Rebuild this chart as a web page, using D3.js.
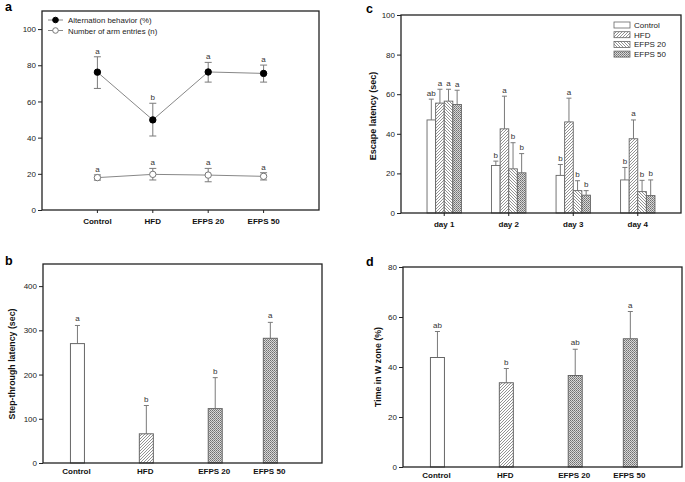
<!DOCTYPE html>
<html><head><meta charset="utf-8">
<script src="https://cdn.jsdelivr.net/npm/d3@7"></script>
<style>
body{margin:0;background:#fff;}
text{font-family:"Liberation Sans",Arial,sans-serif;}
</style></head>
<body><svg id="c" width="685" height="482"></svg>
<script>
// ---------- DATA ----------
const groups = ["Control","HFD","EFPS 20","EFPS 50"];
// panel a
const altMean = [76.2, 49.8, 76.3, 75.5];
const altErrLo = [67.2, 40.9, 70.7, 70.7];
const altErrHi = [84.7, 59.0, 81.6, 80.1];
const altLetters = ["a","b","a","a"];
const entMean = [17.9, 19.7, 19.3, 18.6];
const entErrLo = [16.5, 16.6, 15.6, 16.6];
const entErrHi = [19.4, 23.0, 23.0, 20.6];
const entLetters = ["a","a","a","a"];
const aTicks = [0,20,40,60,80,100];
// panel b
const stepMean = [270, 66, 123, 282];
const stepErr = [311, 130, 193, 318];
const stepLetters = ["a","b","b","a"];
const bTicks = [0,100,200,300,400];
// panel c
const days = ["day 1","day 2","day 3","day 4"];
const escControl = [47.0, 24.0, 19.0, 16.7];
const escHFD = [55.5, 42.5, 46.0, 37.5];
const escE20 = [56.5, 22.3, 11.3, 10.8];
const escE50 = [54.8, 20.3, 9.0, 8.8];
const escControlErr = [57.5, 26.2, 24.5, 23.0];
const escHFDErr = [62.5, 59.0, 58.0, 47.0];
const escE20Err = [62.5, 35.5, 16.3, 16.5];
const escE50Err = [62.0, 30.0, 11.3, 16.7];
const escControlLet = ["ab","b","b","b"];
const escHFDLet = ["a","a","a","a"];
const escE20Let = ["a","b","b","b"];
const escE50Let = ["a","b","b","b"];
const cTicks = [0,20,40,60,80,100];
// panel d
const wzMean = [43.8, 33.7, 36.6, 51.3];
const wzErr = [54.2, 39.4, 47.1, 62.2];
const wzLetters = ["ab","b","ab","a"];
const dTicks = [0,20,40,60,80];

// ---------- LAYOUT ----------
const svg = d3.select("#c");
const defs = svg.append("defs");
function hatch(id, dir){
  const p = defs.append("pattern").attr("id",id).attr("patternUnits","userSpaceOnUse")
    .attr("width",3).attr("height",3);
  p.append("rect").attr("width",3).attr("height",3).attr("fill","#fff");
  if(dir>0){
    p.append("path").attr("d","M-1,1 l2,-2 M0,3 l3,-3 M2,4 l2,-2").attr("stroke","#777").attr("stroke-width",0.8);
  } else {
    p.append("path").attr("d","M-1,2 l2,2 M0,0 l3,3 M2,-1 l2,2").attr("stroke","#777").attr("stroke-width",0.8);
  }
}
hatch("fwd",1); hatch("bwd",-1);
{
  const p = defs.append("pattern").attr("id","cross").attr("patternUnits","userSpaceOnUse")
    .attr("width",2).attr("height",2);
  p.append("rect").attr("width",2).attr("height",2).attr("fill","#d8d8d8");
  p.append("rect").attr("width",1).attr("height",1).attr("fill","#6e6e6e");
  p.append("rect").attr("x",1).attr("y",1).attr("width",1).attr("height",1).attr("fill","#8a8a8a");
}
const fillsC = ["#fff","url(#fwd)","url(#bwd)","url(#cross)"];
const fillsBD = ["#fff","url(#fwd)","url(#cross)","url(#cross)"];
const lineCol = "#666", errCol = "#7a7a7a", frameCol = "#222";

function frame(g, x0,x1,y0,y1){
  g.append("rect").attr("x",x0).attr("y",y0).attr("width",x1-x0).attr("height",y1-y0)
    .attr("fill","none").attr("stroke",frameCol).attr("stroke-width",1.3);
}
function yAxis(g, y, x0, ticks){
  const ax = g.append("g").attr("transform",`translate(${x0},0)`)
    .call(d3.axisLeft(y).tickValues(ticks).tickSize(4).tickPadding(2).tickFormat(d3.format("d")));
  ax.select(".domain").remove();
  ax.selectAll("line").attr("stroke",frameCol);
  ax.selectAll("text").attr("font-size",8).attr("fill","#222").attr("font-family","Liberation Sans, Arial, sans-serif");
}
function panelLabel(t,x,y){
  svg.append("text").attr("x",x).attr("y",y).attr("font-size",12.5).attr("font-weight","bold").text(t);
}
function yLabel(t,x,y,fs){
  svg.append("text").attr("transform",`translate(${x},${y}) rotate(-90)`).attr("text-anchor","middle")
    .attr("font-size",fs).attr("font-weight","bold").attr("fill","#111").text(t);
}
function letter(g,x,y,t){
  g.append("text").attr("x",x).attr("y",y).attr("text-anchor","middle").attr("font-size",8).attr("fill","#333").text(t);
}
function errUp(g,x,yTop,yBase,cw){
  g.append("line").attr("x1",x).attr("x2",x).attr("y1",yTop).attr("y2",yBase).attr("stroke",errCol).attr("stroke-width",1);
  g.append("line").attr("x1",x-cw/2).attr("x2",x+cw/2).attr("y1",yTop).attr("y2",yTop).attr("stroke",errCol).attr("stroke-width",1);
}

// ---------- PANEL A ----------
{
  const x0=42,x1=319,y0=11,y1=210;
  const g = svg.append("g");
  const x = d3.scaleLinear().domain([0,5]).range([x0,x1]);
  const y = d3.scaleLinear().domain([0,110]).range([y1,y0]);
  frame(g,x0,x1,y0,y1);
  yAxis(g,y,x0,aTicks);
  groups.forEach((c,i)=>{
    g.append("line").attr("x1",x(i+1)).attr("x2",x(i+1)).attr("y1",y1).attr("y2",y1+3).attr("stroke",frameCol);
    g.append("text").attr("x",x(i+1)).attr("y",y1+14).attr("text-anchor","middle").attr("font-size",8)
      .attr("font-weight","bold").attr("fill","#111").text(c);
  });
  const series = [
    {m:altMean,lo:altErrLo,hi:altErrHi,let:altLetters,fill:"#000"},
    {m:entMean,lo:entErrLo,hi:entErrHi,let:entLetters,fill:"#fff"}];
  const line = d3.line().x((d,i)=>x(i+1)).y(d=>y(d));
  series.forEach(s=>{
    g.append("path").attr("d",line(s.m)).attr("fill","none").attr("stroke","#888").attr("stroke-width",1);
    s.m.forEach((v,i)=>{
      const cx = x(i+1);
      g.append("line").attr("x1",cx).attr("x2",cx).attr("y1",y(s.lo[i])).attr("y2",y(s.hi[i])).attr("stroke",errCol);
      [s.lo[i],s.hi[i]].forEach(e=>g.append("line").attr("x1",cx-3.5).attr("x2",cx+3.5).attr("y1",y(e)).attr("y2",y(e)).attr("stroke",errCol));
      letter(g,cx,y(s.hi[i])-3,s.let[i]);
    });
    s.m.forEach((v,i)=>{
      g.append("circle").attr("cx",x(i+1)).attr("cy",y(v)).attr("r",3.2).attr("fill",s.fill).attr("stroke",s.fill==="#000"?"#000":"#777").attr("stroke-width",1);
    });
  });
  const leg = [["Alternation behavior (%)","#000"],["Number of arm entries (n)","#fff"]];
  leg.forEach((l,i)=>{
    const ly = 20 + i*10.5;
    g.append("line").attr("x1",48).attr("x2",63).attr("y1",ly).attr("y2",ly).attr("stroke","#888");
    g.append("circle").attr("cx",55.5).attr("cy",ly).attr("r",2.8).attr("fill",l[1]).attr("stroke",l[1]==="#000"?"#000":"#777");
    g.append("text").attr("x",68).attr("y",ly+3).attr("font-size",7.8).attr("fill","#222").text(l[0]);
  });
  panelLabel("a",5,11);
}

// ---------- PANEL B / D helper ----------
const catPos = [1,2,3,3.8];
function barPanel(x0,x1,y0,y1,dom,ticks,mean,err,lets,ylab,ylx,yly,yfs){
  const g = svg.append("g");
  const x = d3.scaleLinear().domain([0.5,4.55]).range([x0,x1]);
  const y = d3.scaleLinear().domain(dom).range([y1,y0]);
  const bw = 14;
  mean.forEach((v,i)=>{
    const cx = x(catPos[i]);
    errUp(g,cx,y(err[i]),y(v),5);
    g.append("rect").attr("x",cx-bw/2).attr("y",y(v)).attr("width",bw).attr("height",y1-y(v))
      .attr("fill",fillsBD[i]).attr("stroke",lineCol).attr("stroke-width",1);
    letter(g,cx,y(err[i])-4,lets[i]);
    g.append("text").attr("x",cx-1).attr("y",y1+10.5).attr("text-anchor","middle").attr("font-size",8)
      .attr("font-weight","bold").attr("fill","#111").text(groups[i]);
  });
  frame(g,x0,x1,y0,y1);
  yAxis(g,y,x0,ticks);
  yLabel(ylab,ylx,yly,yfs);
}
barPanel(43,322,264,463,[0,450],bTicks,stepMean,stepErr,stepLetters,"Step-through latency (sec)",15,364,8.8);
panelLabel("b",5,265);
barPanel(403,682,267,467,[0,80],dTicks,wzMean,wzErr,wzLetters,"Time in W zone (%)",381,367,8.8);
panelLabel("d",366,266);

// ---------- PANEL C ----------
{
  const x0=401,x1=681,y0=15,y1=213;
  const g = svg.append("g");
  const x = d3.scalePoint().domain(days).range([x0,x1]).padding(0.67);
  const y = d3.scaleLinear().domain([0,100]).range([y1,y0]);
  const series = [
    {name:"Control",m:escControl,e:escControlErr,l:escControlLet},
    {name:"HFD",m:escHFD,e:escHFDErr,l:escHFDLet},
    {name:"EFPS 20",m:escE20,e:escE20Err,l:escE20Let},
    {name:"EFPS 50",m:escE50,e:escE50Err,l:escE50Let}];
  const bw = 8.6;
  const inner = d3.scaleBand().domain(series.map(s=>s.name)).range([-2*bw,2*bw]);
  series.forEach((s,k)=>{
    s.m.forEach((v,i)=>{
      const bx = x(days[i]) + inner(s.name);
      const cx = bx + bw/2;
      errUp(g,cx,y(s.e[i]),y(v),5);
      g.append("rect").attr("x",bx).attr("y",y(v)).attr("width",bw).attr("height",y1-y(v))
        .attr("fill",fillsC[k]).attr("stroke",lineCol).attr("stroke-width",0.9);
      letter(g,cx,y(s.e[i])-3.5,s.l[i]);
    });
  });
  days.forEach(d=>{
    g.append("line").attr("x1",x(d)).attr("x2",x(d)).attr("y1",y1).attr("y2",y1+3).attr("stroke",frameCol);
    g.append("text").attr("x",x(d)).attr("y",y1+13.5).attr("text-anchor","middle").attr("font-size",8)
      .attr("font-weight","bold").attr("fill","#111").text(d);
  });
  frame(g,x0,x1,y0,y1);
  yAxis(g,y,x0,cTicks);
  yLabel("Escape latency (sec)",376,116,9);
  series.forEach((s,k)=>{
    const ly = 25 + k*9.7;
    g.append("rect").attr("x",614).attr("y",ly-3).attr("width",16).attr("height",6)
      .attr("fill",fillsC[k]).attr("stroke",lineCol).attr("stroke-width",0.8);
    g.append("text").attr("x",634).attr("y",ly+3).attr("font-size",8).attr("fill","#222").text(s.name);
  });
  panelLabel("c",366,13);
}
</script></body></html>
